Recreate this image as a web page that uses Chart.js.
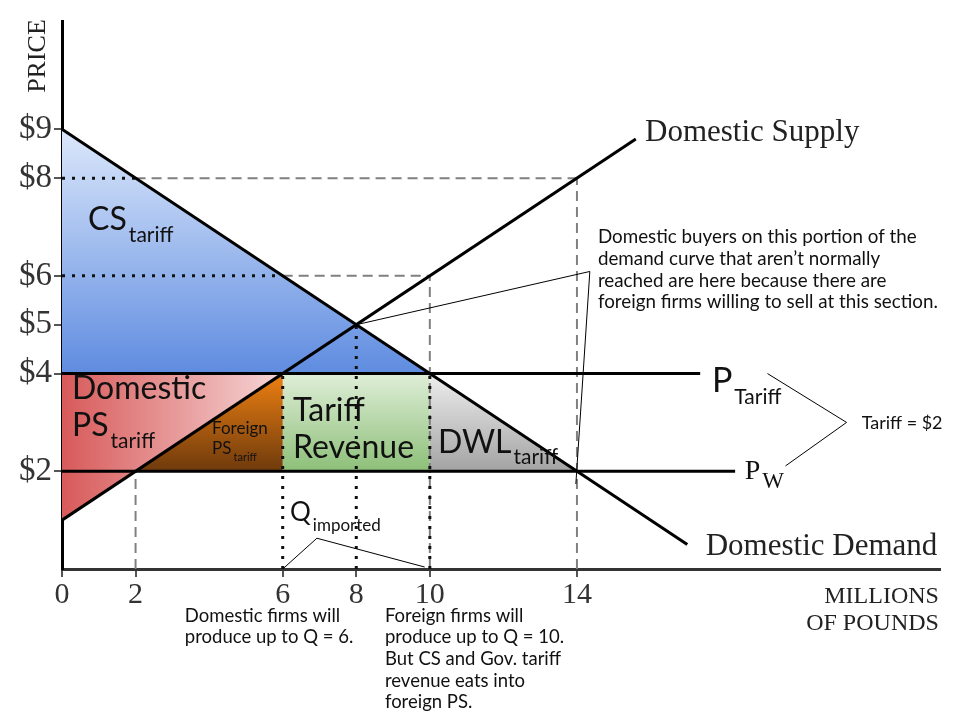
<!DOCTYPE html>
<html>
<head>
<meta charset="utf-8">
<script src="https://cdn.jsdelivr.net/npm/chart.js@4.4.0/dist/chart.umd.min.js"></script>
<style>
  html, body { margin: 0; padding: 0; background: #fff; }
  #wrap { width: 960px; height: 720px; position: relative; }
</style>
</head>
<body>
<div id="wrap"><canvas id="tariffChart"></canvas></div>
<script>
// axis ticks
const xTickValues = [0, 2, 6, 8, 10, 14];
const yTickValues = [2, 4, 5, 6, 8, 9];

// curves (quantity x, price y)
const demandLine = [{ x: 0, y: 9 }, { x: 17.0, y: 0.5 }];
const supplyLine = [{ x: 0, y: 1 }, { x: 15.6, y: 8.8 }];
const tariffPriceLine = [{ x: 0, y: 4 }, { x: 17.35, y: 4 }];
const worldPriceLine = [{ x: 0, y: 2 }, { x: 18.3, y: 2 }];

// shaded areas
const csArea = [{ x: 0, y: 9 }, { x: 0, y: 4 }, { x: 10, y: 4 }];
const domesticPsArea = [{ x: 0, y: 4 }, { x: 0, y: 1 }, { x: 6, y: 4 }];
const foreignPsArea = [{ x: 2, y: 2 }, { x: 6, y: 4 }, { x: 6, y: 2 }];
const revenueArea = [{ x: 6, y: 2 }, { x: 6, y: 4 }, { x: 10, y: 4 }, { x: 10, y: 2 }];
const dwlArea = [{ x: 10, y: 4 }, { x: 10, y: 2 }, { x: 14, y: 2 }];

// guide lines
const dashedGuides = [
  [{ x: 2, y: 8 }, { x: 14, y: 8 }],
  [{ x: 14, y: 0 }, { x: 14, y: 8 }],
  [{ x: 6, y: 6 }, { x: 10, y: 6 }],
  [{ x: 10, y: 0 }, { x: 10, y: 6 }],
  [{ x: 2, y: 0 }, { x: 2, y: 2 }]
];
const dottedGuides = [
  [{ x: 0, y: 8 }, { x: 2, y: 8 }],
  [{ x: 0, y: 6 }, { x: 6, y: 6 }],
  [{ x: 6, y: 0 }, { x: 6, y: 4 }],
  [{ x: 8, y: 0 }, { x: 8, y: 5 }],
  [{ x: 10, y: 0 }, { x: 10, y: 4 }]
];

// thin pointer lines
const buyersCallout = [{ x: 8, y: 5 }, { x: 14.35, y: 6.09 }, { x: 13.97, y: 1.74 }];
const importCallout = [{ x: 6, y: 0 }, { x: 6.93, y: 0.63 }, { x: 9.86, y: 0.04 }];
const tariffBracket = [{ x: 19.18, y: 4.0 }, { x: 21.33, y: 3.0 }, { x: 19.67, y: 2.11 }];

const SERIF = '"Liberation Serif", "Times New Roman", serif';
const SANS = 'Lato, "Noto Sans", sans-serif';

// vertical gradient spanning the area's price range
function vGradient(area, topColor, bottomColor) {
  const yTop = Math.max(...area.map(p => p.y));
  const yBottom = Math.min(...area.map(p => p.y));
  return (context) => {
    const chart = context.chart;
    const sy = chart.scales.y;
    if (!chart.chartArea || !sy) return bottomColor;
    const g = chart.ctx.createLinearGradient(0, sy.getPixelForValue(yTop), 0, sy.getPixelForValue(yBottom));
    g.addColorStop(0, topColor);
    g.addColorStop(1, bottomColor);
    return g;
  };
}

// horizontal gradient spanning the area's quantity range
function hGradient(area, leftColor, rightColor) {
  const xLeft = Math.min(...area.map(p => p.x));
  const xRight = Math.max(...area.map(p => p.x));
  return (context) => {
    const chart = context.chart;
    const sx = chart.scales.x;
    if (!chart.chartArea || !sx) return leftColor;
    const g = chart.ctx.createLinearGradient(sx.getPixelForValue(xLeft), 0, sx.getPixelForValue(xRight), 0);
    g.addColorStop(0, leftColor);
    g.addColorStop(1, rightColor);
    return g;
  };
}

function areaSet(data, bg) {
  return { data, backgroundColor: bg, borderWidth: 0, pointRadius: 0, fill: 'shape', tension: 0, order: 20 };
}
function lineSet(data, color, width, dash, order) {
  return { data, borderColor: color, borderWidth: width, borderDash: dash || [], pointRadius: 0, fill: false, tension: 0, order, borderCapStyle: 'butt' };
}

const datasets = [
  areaSet(csArea, vGradient(csArea, '#dce8fb', '#5f8ce0')),
  areaSet(domesticPsArea, hGradient(domesticPsArea, '#d85a5a', '#f6d6d6')),
  areaSet(foreignPsArea, vGradient(foreignPsArea, '#ee8012', '#6e3a0c')),
  areaSet(revenueArea, vGradient(revenueArea, '#dfeed8', '#8dbf78')),
  areaSet(dwlArea, vGradient(dwlArea, '#eeeeee', '#a3a3a3')),
  ...dashedGuides.map(seg => lineSet(seg, '#808080', 2, [10, 6], 10)),
  ...dottedGuides.map(seg => lineSet(seg, '#111111', 3, [3, 7], 8)),
  lineSet(demandLine, '#000000', 3, null, 2),
  lineSet(supplyLine, '#000000', 3, null, 2),
  lineSet(tariffPriceLine, '#000000', 3, null, 2),
  lineSet(worldPriceLine, '#000000', 3, null, 2),
  lineSet(buyersCallout, '#000000', 1, null, 1),
  lineSet(importCallout, '#000000', 1, null, 1),
  lineSet(tariffBracket, '#000000', 1, null, 1)
];

// text labels, anchored in data units (left edge, baseline)
const notes = [
  { text: 'Domestic Supply', x: 15.85, y: 8.76, font: SERIF, size: 31, color: '#222' },
  { text: 'Domestic Demand', x: 17.5, y: 0.28, font: SERIF, size: 31, color: '#222' },
  { text: 'MILLIONS', x: 23.84, y: -0.69, font: SERIF, size: 24, color: '#222', align: 'right' },
  { text: 'OF POUNDS', x: 23.84, y: -1.24, font: SERIF, size: 24, color: '#222', align: 'right' },
  { text: 'CS', sub: 'tariff', x: 0.71, y: 6.94, font: SANS, size: 32, subSize: 21, subDy: 12 },
  { text: 'Domestic', x: 0.27, y: 3.47, font: SANS, size: 32 },
  { text: 'PS', sub: 'tariff', x: 0.27, y: 2.72, font: SANS, size: 32, subSize: 21, subDy: 12 },
  { text: 'Foreign', x: 4.08, y: 2.76, font: SANS, size: 17 },
  { text: 'PS', sub: 'tariff', x: 4.08, y: 2.35, font: SANS, size: 17, subSize: 11, subDy: 7 },
  { text: 'Tariff', x: 6.28, y: 3.02, font: SANS, size: 32 },
  { text: 'Revenue', x: 6.28, y: 2.27, font: SANS, size: 32 },
  { text: 'DWL', sub: 'tariff', x: 10.22, y: 2.37, font: SANS, size: 32, subSize: 21, subDy: 11 },
  { text: 'Q', sub: 'imported', x: 6.2, y: 0.99, font: SANS, size: 26, subSize: 17, subDy: 10 },
  { text: 'P', sub: 'Tariff', x: 17.67, y: 3.63, font: SANS, size: 34, subSize: 21, subDy: 12 },
  { text: 'P', sub: 'W', x: 18.56, y: 1.85, font: SERIF, size: 28, subSize: 23, subDy: 9 },
  { text: 'Tariff = $2', x: 21.74, y: 2.86, font: SANS, size: 18 },
  { lines: ['Domestic buyers on this portion of the', 'demand curve that aren\u2019t normally',
            'reached are here because there are', 'foreign firms willing to sell at this section.'],
    x: 14.57, y: 6.67, font: SANS, size: 18.8, lineHeight: 21.7 },
  { lines: ['Domestic firms will', 'produce up to Q = 6.'],
    x: 3.34, y: -1.08, font: SANS, size: 18.5, lineHeight: 21.6 },
  { lines: ['Foreign firms will', 'produce up to Q = 10.', 'But CS and Gov. tariff',
            'revenue eats into', 'foreign PS.'],
    x: 8.78, y: -1.08, font: SANS, size: 18.5, lineHeight: 21.6 }
];

const notesPlugin = {
  id: 'notes',
  afterDraw(chart) {
    const c = chart.ctx;
    const sx = chart.scales.x, sy = chart.scales.y;
    c.save();
    c.textBaseline = 'alphabetic';
    notes.forEach(n => {
      const px = sx.getPixelForValue(n.x);
      const py = sy.getPixelForValue(n.y);
      c.fillStyle = n.color || '#111';
      c.font = `${n.size}px ${n.font}`;
      c.textAlign = n.align || 'left';
      const lines = n.lines || [n.text];
      lines.forEach((t, i) => c.fillText(t, px, py + i * (n.lineHeight || 0)));
      if (n.sub) {
        const w = c.measureText(n.text).width;
        c.font = `${n.subSize}px ${n.font}`;
        c.textAlign = 'left';
        c.fillText(n.sub, px + w + 2, py + n.subDy);
      }
    });
    // vertical axis title
    c.translate(38, 56);
    c.rotate(-Math.PI / 2);
    c.font = `26px ${SERIF}`;
    c.fillStyle = '#222';
    c.textAlign = 'center';
    c.textBaseline = 'middle';
    c.fillText('PRICE', 0, 0);
    c.restore();
  }
};

const ctx = document.getElementById('tariffChart').getContext('2d');
new Chart(ctx, {
  type: 'line',
  data: { datasets },
  options: {
    responsive: true,
    maintainAspectRatio: false,
    animation: false,
    events: [],
    layout: { padding: { top: 17, right: 20, left: 0, bottom: 0 } },
    plugins: { legend: { display: false }, tooltip: { enabled: false } },
    scales: {
      x: {
        type: 'linear',
        min: 0,
        max: 23.87,
        afterBuildTicks: (scale) => { scale.ticks = xTickValues.map(v => ({ value: v })); },
        afterFit: (scale) => { scale.height = 151; },
        ticks: { color: '#333', font: { family: SERIF, size: 30 }, padding: 0, maxRotation: 0, autoSkip: false },
        grid: { drawOnChartArea: false, tickLength: 8, color: '#555', lineWidth: 2 },
        border: { display: true, color: '#333', width: 3 }
      },
      y: {
        type: 'linear',
        min: 0,
        max: 11.2,
        afterBuildTicks: (scale) => { scale.ticks = yTickValues.map(v => ({ value: v })); },
        afterFit: (scale) => { scale.width = 62; },
        ticks: { color: '#333', font: { family: SERIF, size: 33 }, padding: 2, callback: (v) => '$' + v },
        grid: { drawOnChartArea: false, tickLength: 8, color: '#555', lineWidth: 2 },
        border: { display: true, color: '#000', width: 3 }
      }
    }
  },
  plugins: [notesPlugin]
});
</script>
</body>
</html>
